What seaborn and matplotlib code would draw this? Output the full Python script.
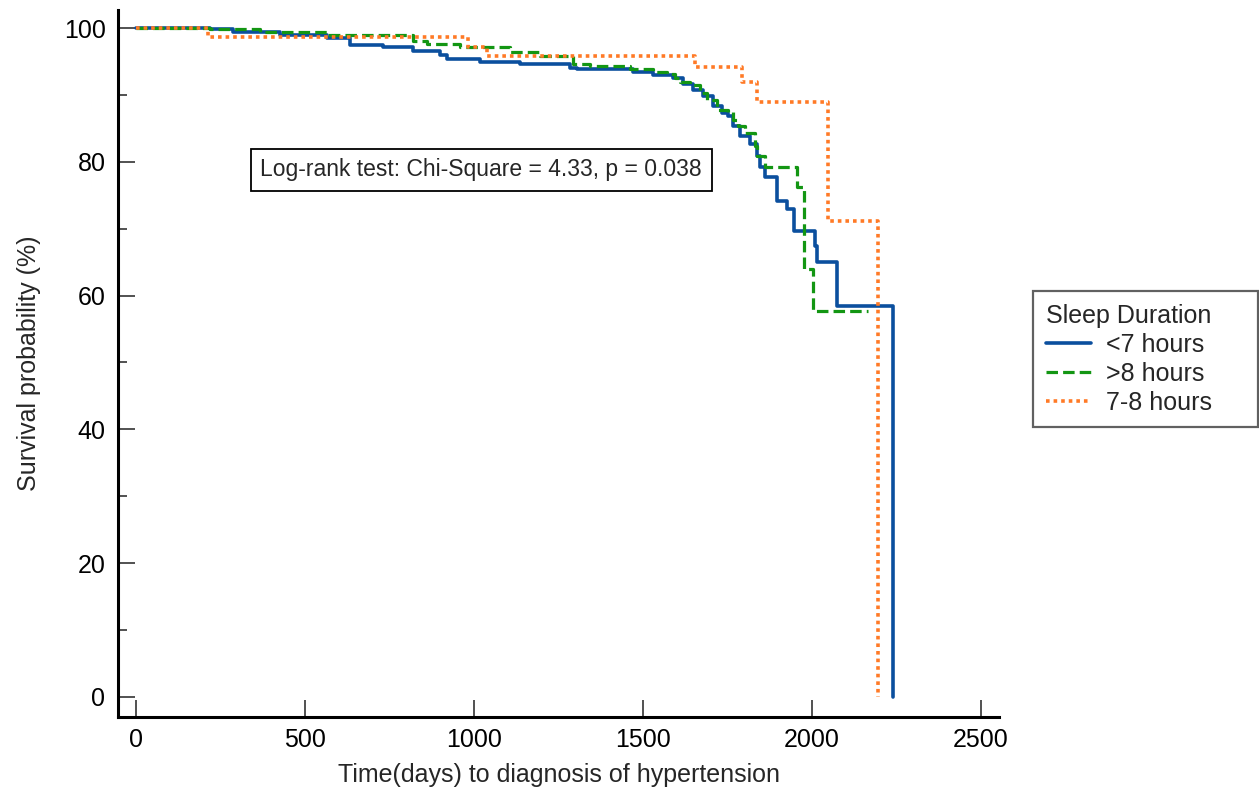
import numpy as np
import pandas as pd
import matplotlib
matplotlib.use("Agg")
import matplotlib.pyplot as plt
from matplotlib.ticker import MultipleLocator
import seaborn as sns

# ---- data ----
groups = ["<7 hours", ">8 hours", "7-8 hours"]

blue_t = [0, 219, 287, 426, 565, 633, 731, 820, 899, 920, 1018, 1136, 1284, 1305,
          1470, 1530, 1589, 1618, 1648, 1678, 1707, 1734, 1751, 1766, 1787, 1817,
          1837, 1846, 1861, 1896, 1926, 1947, 2009, 2015, 2074, 2240]
blue_s = [100, 99.8, 99.4, 99.0, 98.5, 97.5, 97.1, 96.6, 96.0, 95.3, 94.9, 94.6, 94.1,
          93.9, 93.5, 93.0, 92.5, 91.7, 90.8, 89.8, 88.3, 87.3, 86.8, 85.3, 83.8, 82.6,
          80.8, 79.3, 77.8, 74.1, 72.9, 69.6, 67.4, 65.0, 58.4, 0]

green_t = [0, 219, 367, 565, 820, 861, 959, 1107, 1195, 1293, 1343, 1462, 1530, 1571,
           1595, 1609, 1639, 1669, 1689, 1719, 1751, 1766, 1781, 1802, 1831, 1837,
           1861, 1956, 1976, 2003, 2166]
green_s = [100, 99.8, 99.4, 98.9, 98.1, 97.6, 97.1, 96.4, 95.8, 94.7, 94.4, 93.9, 93.4,
           93.1, 92.5, 92.0, 91.5, 90.3, 89.3, 87.8, 87.5, 86.3, 85.3, 84.3, 82.3, 80.8,
           79.3, 76.2, 64.0, 57.7, 57.7]

orange_t = [0, 213, 982, 1038, 1654, 1793, 1837, 2047, 2195]
orange_s = [100, 98.6, 97.2, 95.8, 94.2, 91.9, 88.9, 71.1, 0]

x_ticks = [0, 500, 1000, 1500, 2000, 2500]
y_ticks = [0, 20, 40, 60, 80, 100]

annotation = "Log-rank test: Chi-Square = 4.33, p = 0.038"

# ---- build long table ----
df = pd.concat([
    pd.DataFrame({"time": blue_t, "surv": blue_s, "group": groups[0]}),
    pd.DataFrame({"time": green_t, "surv": green_s, "group": groups[1]}),
    pd.DataFrame({"time": orange_t, "surv": orange_s, "group": groups[2]}),
], ignore_index=True)

sns.set_style("ticks")
plt.rcParams["font.family"] = ["Liberation Sans", "DejaVu Sans"]

palette = {groups[0]: "#0b4f9e", groups[1]: "#139613", groups[2]: "#ff7a26"}
dashes = {groups[0]: "", groups[1]: (3.6, 1.6), groups[2]: (1.0, 1.1)}
widths = {groups[0]: 2.6, groups[1]: 2.3, groups[2]: 2.6}

fig = plt.figure(figsize=(12.59, 7.95), dpi=100)
ax = fig.add_axes([118 / 1259, 78 / 795, 881 / 1259, 707 / 795])

sns.lineplot(data=df, x="time", y="surv", hue="group", style="group",
             hue_order=groups, style_order=groups, palette=palette, dashes=dashes,
             drawstyle="steps-post", estimator=None, sort=False, legend=False, ax=ax)

lines = ax.lines[:3]
for ln, g in zip(lines, groups):
    ln.set_linewidth(widths[g])
    if g == groups[2]:
        ln.set_dash_capstyle("butt")

ax.set_xlim(-53, 2553)
ax.set_ylim(-3, 102.7)
ax.set_xticks(x_ticks)
ax.set_yticks(y_ticks)
ax.yaxis.set_minor_locator(MultipleLocator(10))

for s in ["top", "right"]:
    ax.spines[s].set_visible(False)
for s in ["left", "bottom"]:
    ax.spines[s].set_linewidth(2.2)
    ax.spines[s].set_color("black")

ax.tick_params(axis="both", which="major", direction="in", length=12, width=1.2,
               labelsize=18, color="#333333", labelcolor="black")
ax.tick_params(axis="y", which="major", pad=9)
ax.tick_params(axis="x", which="major", pad=8)
ax.tick_params(axis="y", which="minor", direction="in", length=6.5, width=1.2, color="#333333")

ax.set_xlabel("Time(days) to diagnosis of hypertension", fontsize=18, labelpad=8)
ax.set_ylabel("Survival probability (%)", fontsize=18, labelpad=16)

ax.text(1021, 78.8, annotation, fontsize=16.5, ha="center", va="center",
        bbox=dict(boxstyle="square,pad=0.42", facecolor="white", edgecolor="black", linewidth=1.3))

leg = ax.legend(handles=lines, labels=groups, title="Sleep Duration",
                loc="upper left", bbox_to_anchor=(1.0386, 0.0, 0.2554, 0.6023),
                mode="expand", borderaxespad=0, fontsize=18, title_fontsize=18,
                frameon=True, fancybox=False, alignment="left",
                handlelength=1.8, handletextpad=0.6, labelspacing=0.2, borderpad=0.5)
leg.get_frame().set_edgecolor("#3a3a3a")
leg.get_frame().set_linewidth(1.6)

fig.savefig("out.png", dpi=100)
